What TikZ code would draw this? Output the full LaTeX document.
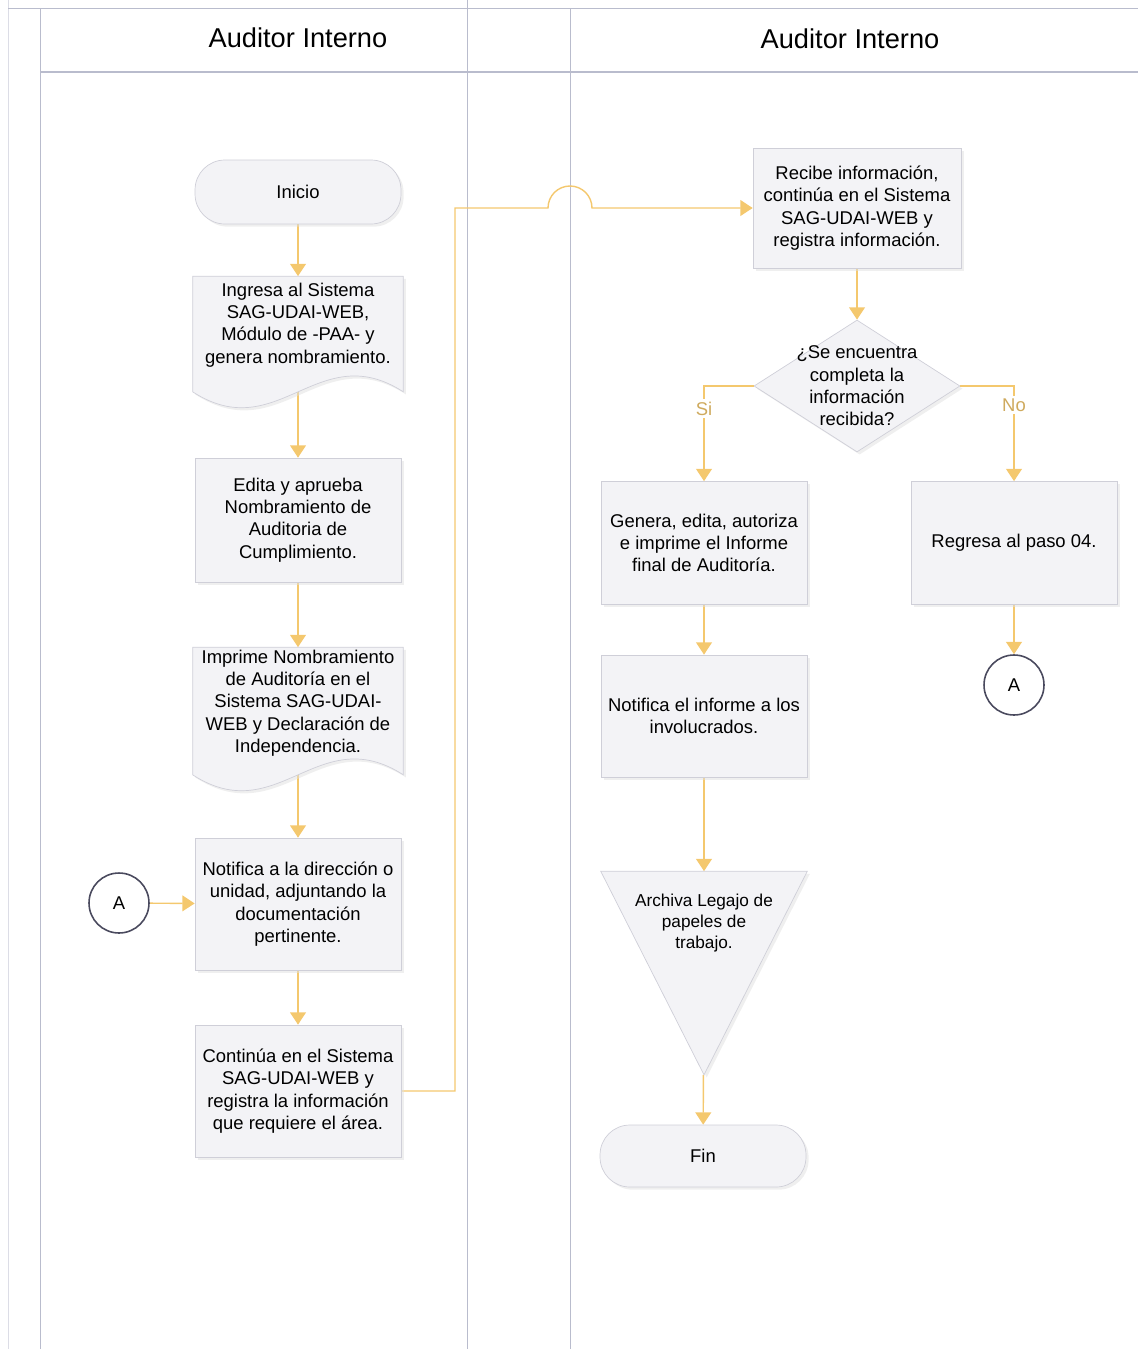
\documentclass[tikz,border=0pt]{standalone}
\usepackage{fontspec}
\setmainfont{Liberation Sans}
\usetikzlibrary{shapes.geometric,arrows.meta,shadows}
\definecolor{naranja}{HTML}{F4C86E}
\definecolor{cajagris}{HTML}{F3F3F6}
\definecolor{bordegris}{HTML}{CFCFD8}
\definecolor{lineagris}{HTML}{B9BCCD}
\definecolor{circgris}{HTML}{4A4A5E}
\pgfdeclarelayer{fondo}
\pgfdeclarelayer{lineas}
\pgfsetlayers{fondo,lineas,main}
\newcommand{\hojaborde}[1]{\path[caja] (#1.north west) -- (#1.north east) -- (#1.south east) .. controls ([shift={(20,-55)}]#1.south) and ([shift={(-20,55)}]#1.south) .. (#1.south west) -- cycle;}

\begin{document}
\begin{tikzpicture}[x=0.02cm,y=-0.02cm,
    font=\fontsize{10.5}{12.7}\selectfont,
    carril/.style={draw=lineagris,line width=0.5pt},
    caja/.style={fill=cajagris,draw=bordegris,line width=0.4pt,drop shadow={shadow xshift=1.5pt,shadow yshift=-1.5pt,fill=black!12}},
    proceso/.style={caja,rectangle,minimum width=4.12cm,align=center,inner sep=2pt},
    hoja/.style={rectangle,minimum width=4.2cm,inner sep=0pt},
    terminal/.style={caja,rectangle,rounded corners=17pt,minimum width=4.12cm,minimum height=1.28cm},
    decision/.style={caja,diamond,minimum width=4.12cm,minimum height=2.64cm,inner sep=0pt},
    conector/.style={circle,draw=circgris,line width=0.9pt,fill=white,minimum size=1.2cm,inner sep=0pt},
    texto/.style={align=center,inner sep=0pt},
    flecha/.style={draw=naranja,line width=0.8pt,-{Triangle[width=9pt,length=7pt]}},
    rama/.style={fill=white,text=naranja!85!black,inner sep=1.5pt}]
\useasboundingbox (0,0) rectangle (1138,1349);
\begin{pgfonlayer}{fondo}
\draw[carril,draw=lineagris!50] (8,0) -- (8,1349);
\draw[carril] (8,8) -- (1138,8);
\draw[carril,line width=0.7pt] (40,72) -- (1138,72);
\foreach \x in {40,570} \draw[carril] (\x,8) -- (\x,1349);
\draw[carril] (467,0) -- (467,1349);
\end{pgfonlayer}
\node[font=\fontsize{15.5}{18}\selectfont] (carrilA) at (298,38) {Auditor Interno};
\node[font=\fontsize{15.5}{18}\selectfont] (carrilB) at (850,39) {Auditor Interno};

\node[terminal] (inicio) at (298,192) {Inicio};
\node[hoja,minimum height=2.3cm] (ingresa) at (298,334) {};
\hojaborde{ingresa}
\node[texto] (ingresaT) at ([shift={(0,-9)}]ingresa) {Ingresa al Sistema\\SAG-UDAI-WEB,\\Módulo de -PAA- y\\genera nombramiento.};
\node[proceso,minimum height=2.48cm] (edita) at (298,520) {Edita y aprueba\\Nombramiento de\\Auditoria de\\Cumplimiento.};
\node[hoja,minimum height=2.54cm] (imprime) at (298,711) {};
\hojaborde{imprime}
\node[texto] (imprimeT) at ([shift={(0,-8)}]imprime) {Imprime Nombramiento\\de Auditoría en el\\Sistema SAG-UDAI-\\WEB y Declaración de\\Independencia.};
\node[proceso,minimum height=2.64cm] (notifica) at (298,904) {Notifica a la dirección o\\unidad, adjuntando la\\documentación\\pertinente.};
\node[conector] (a1) at (119,903) {A};
\node[proceso,minimum height=2.64cm] (continua) at (298,1091) {Continúa en el Sistema\\SAG-UDAI-WEB y\\registra la información\\que requiere el área.};

\node[proceso,minimum width=4.16cm,minimum height=2.4cm] (recibe) at (857,208) {Recibe información,\\continúa en el Sistema\\SAG-UDAI-WEB y\\registra información.};
\node[decision] (decide) at (857,386) {};
\node[texto] (decideT) at (decide) {¿Se encuentra\\completa la\\información\\recibida?};
\node[proceso,minimum height=2.46cm] (genera) at (704,543) {Genera, edita, autoriza\\e imprime el Informe\\final de Auditoría.};
\node[proceso,minimum height=2.46cm] (regresa) at (1014,543) {Regresa al paso 04.};
\node[conector] (a2) at (1014,685) {A};
\node[proceso,minimum height=2.44cm] (informe) at (704,716) {Notifica el informe a los\\involucrados.};
\node[hoja,minimum width=4.12cm,minimum height=4.06cm] (archiva) at (704,973) {};
\path[caja] (archiva.north west) -- (archiva.north east) -- (archiva.south) -- cycle;
\node[texto,font=\fontsize{9.8}{11.9}\selectfont] (archivaT) at (704,923) {Archiva Legajo de\\papeles de\\trabajo.};
\node[terminal,minimum height=1.24cm] (fin) at (703,1156) {Fin};

\coordinate (giro) at (455,600);
\coordinate (salto) at (548,208);
\begin{pgfonlayer}{lineas}
\draw[flecha] (inicio) -- (ingresa);
\draw[flecha] (ingresa.center) -- (edita);
\draw[flecha] (edita) -- (imprime);
\draw[flecha] (imprime.center) -- (notifica);
\draw[flecha] (a1) -- (notifica);
\draw[flecha] (notifica) -- (continua);
\draw[flecha] (continua.east) -| (giro) |- (salto) arc[start angle=180,end angle=360,radius=22] -- (recibe.west);
\draw[flecha] (recibe) -- (decide);
\draw[flecha] (decide.west) -| node[rama,pos=.62] (si) {Si} (genera.north);
\draw[flecha] (decide.east) -| node[rama,pos=.6] (no) {No} (regresa.north);
\draw[flecha] (genera) -- (informe);
\draw[flecha] (informe) -- (archiva);
\draw[flecha] (archiva) -- (fin);
\draw[flecha] (regresa) -- (a2);
\end{pgfonlayer}
\end{tikzpicture}
\end{document}
